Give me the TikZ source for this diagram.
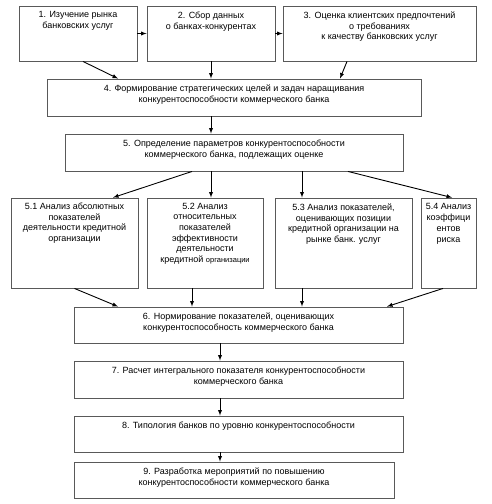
\documentclass[tikz,border=0pt]{standalone}
\usepackage{fontspec}
\setmainfont{Liberation Sans}
\usepackage{tikz}
\usetikzlibrary{arrows}

\begin{document}
\begin{tikzpicture}[x=1pt,y=-1pt,
  box/.style={draw=black!65, line width=0.9pt, inner sep=0pt},
  txt/.style={anchor=north, align=center, inner sep=0pt, font=\fontsize{9}{10.7}\selectfont},
  arr/.style={->, >=latex, line width=0.9pt}]
\useasboundingbox (0,0) rectangle (492,504);

% first row
\node [box, minimum width=118, minimum height=55] (b1) at (78,33.5) {};
\node [box, minimum width=128, minimum height=55] (b2) at (211,33.5) {};
\node [box, minimum width=193, minimum height=55] (b3) at (379.5,33.5) {};
\node [txt] (t1) at ([yshift=-6]b1.north) {1. Изучение рынка\\банковских услуг};
\node [txt] (t2) at ([yshift=-6]b2.north) {2. Сбор данных\\о банках-конкурентах};
\node [txt] (t3) at ([yshift=-6]b3.north) {3. Оценка клиентских предпочтений\\о требованиях\\к качеству банковских услуг};

\node [box, minimum width=374, minimum height=37] (b4) at (234,97.5) {};
\node [txt] (t4) at ([yshift=-6]b4.north) {4. Формирование стратегических целей и задач наращивания\\конкурентоспособности коммерческого банка};
\node [box, minimum width=338, minimum height=37] (b5) at (234,152.5) {};
\node [txt] (t5) at ([yshift=-6]b5.north) {5. Определение параметров конкурентоспособности\\коммерческого банка, подлежащих оценке};

% analysis boxes
\node [box, minimum width=127, minimum height=90] (b51) at (74.5,243) {};
\node [box, minimum width=116, minimum height=90] (b52) at (205,243) {};
\node [box, minimum width=137, minimum height=90] (b53) at (343.5,243) {};
\node [box, minimum width=55, minimum height=90] (b54) at (448.5,243) {};
\node [txt] (t51) at ([yshift=-5]b51.north) {5.1 Анализ абсолютных\\показателей\\деятельности кредитной\\организации};
\node [txt] (t52) at ([yshift=-5]b52.north) {5.2 Анализ\\относительных\\показателей\\эффективности\\деятельности\\кредитной {\fontsize{7.5}{10.7}\selectfont организации}};
\node [txt] (t53) at ([yshift=-6]b53.north) {5.3 Анализ показателей,\\оценивающих позиции\\кредитной организации на\\рынке банк. услуг};
\node [txt] (t54) at ([yshift=-6]b54.north) {5.4 Анализ\\коэффици\\ентов\\риска};

% lower boxes
\node [box, minimum width=329, minimum height=36] (b6) at (238.5,325) {};
\node [box, minimum width=329, minimum height=37] (b7) at (238.5,379.5) {};
\node [box, minimum width=329, minimum height=36] (b8) at (238.5,434) {};
\node [box, minimum width=320, minimum height=36] (b9) at (234,480) {};
\node [txt] (t6) at ([yshift=-6]b6.north) {6. Нормирование показателей, оценивающих\\конкурентоспособность коммерческого банка};
\node [txt] (t7) at ([yshift=-6]b7.north) {7. Расчет интегрального показателя конкурентоспособности\\коммерческого банка};
\node [txt] (t8) at ([yshift=-6]b8.north) {8. Типология банков по уровню конкурентоспособности};
\node [txt] (t9) at ([yshift=-6]b9.north) {9. Разработка мероприятий по повышению\\конкурентоспособности коммерческого банка};

% arrows
\draw [arr] (b1.east) -- (b2.west);
\draw [arr] (b2.east) -- (b3.west);
\draw [arr] ([xshift=5]b1.south) -- ([xshift=-116]b4.north);
\draw [arr] (b2.south) -- (b2.south |- b4.north);
\draw [arr] ([xshift=-32.5]b3.south) -- ([xshift=106]b4.north);
\draw [arr] ([xshift=-23]b4.south) -- ([xshift=-23]b5.north);
\draw [arr] ([xshift=-42]b5.south) -- ([xshift=38.5]b51.north);
\draw [arr] ([xshift=-23]b5.south) -- ([xshift=6]b52.north);
\draw [arr] ([xshift=68]b5.south) -- ([xshift=-41.5]b53.north);
\draw [arr] ([xshift=114]b5.south) -- ([xshift=3.5]b54.north);
\draw [arr] (b51.south) -- ([xshift=-120.5]b6.north);
\draw [arr] ([xshift=-13]b52.south) -- ([xshift=-46.5]b6.north);
\draw [arr] ([xshift=-41.5]b53.south) -- ([xshift=63.5]b6.north);
\draw [arr] ([xshift=-5.5]b54.south) -- ([xshift=148.5]b6.north);
\draw [arr] ([xshift=-18.5]b6.south) -- ([xshift=-18.5]b7.north);
\draw [arr] ([xshift=-18.5]b7.south) -- ([xshift=-18.5]b8.north);
\draw [arr] ([xshift=-18.5]b8.south) -- ([xshift=-14]b9.north);

\end{tikzpicture}
\end{document}
